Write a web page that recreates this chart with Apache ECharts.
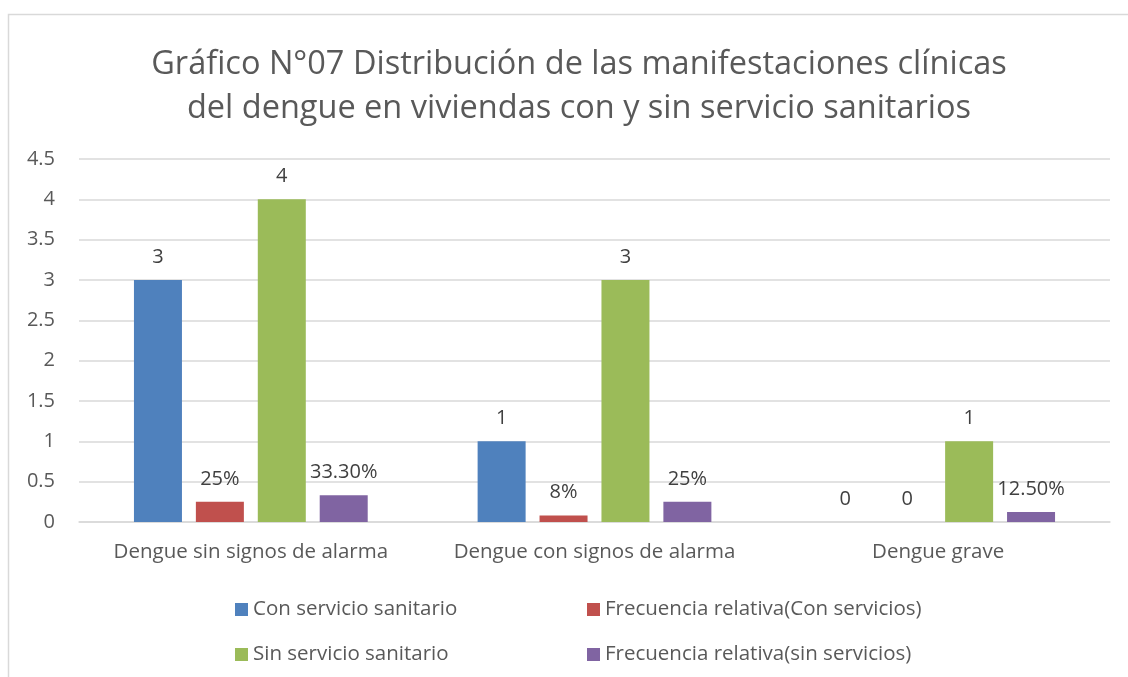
<!DOCTYPE html>
<html>
<head>
<meta charset="utf-8">
<script src="https://cdn.jsdelivr.net/npm/echarts@6/dist/echarts.min.js"></script>
<style>
  html, body { margin: 0; padding: 0; background: #fff; }
  #chart { width: 1128px; height: 677px; }
</style>
</head>
<body>
<div id="chart"></div>
<script>
const categories = ["Dengue sin signos de alarma", "Dengue con signos de alarma", "Dengue grave"];
const conServicio = [3, 1, 0];
const frecCon = [0.25, 0.08, 0];
const sinServicio = [4, 3, 1];
const frecSin = [0.333, 0.25, 0.125];
const frecConLabels = ["25%", "8%", "0"];
const frecSinLabels = ["33.30%", "25%", "12.50%"];

const font = "Open Sans";
const textColor = "#595959";

let chart = echarts.init(document.getElementById("chart"));

function labelCfg(texts) {
  return {
    show: true,
    position: "top",
    distance: 13,
    fontFamily: font,
    fontSize: 20,
    color: "#404040",
    formatter: texts ? p => texts[p.dataIndex] : "{c}"
  };
}

let option = {
  animation: false,
  backgroundColor: "#fff",
  title: {
    text: "Gráfico N°07 Distribución de las manifestaciones clínicas\ndel dengue en viviendas con y sin servicio sanitarios",
    left: 574,
    textAlign: "center",
    top: 38,
    textStyle: {
      fontFamily: font,
      fontSize: 32.5,
      fontWeight: "normal",
      color: textColor,
      lineHeight: 44
    }
  },
  graphic: [
    {
      type: "rect",
      shape: { x: 8.5, y: 14.5, width: 1200, height: 700 },
      style: { fill: "none", stroke: "#d9d9d9", lineWidth: 1.5 },
      silent: true
    }
  ],
  legend: [
    {
      orient: "vertical",
      left: 230,
      top: 594,
      itemWidth: 13,
      itemHeight: 13,
      itemGap: 24,
      icon: "rect",
      textStyle: { fontFamily: font, fontSize: 20.5, color: textColor },
      data: ["Con servicio sanitario", "Sin servicio sanitario"]
    },
    {
      orient: "vertical",
      left: 582,
      top: 594,
      itemWidth: 13,
      itemHeight: 13,
      itemGap: 24,
      icon: "rect",
      textStyle: { fontFamily: font, fontSize: 20.5, color: textColor },
      data: ["Frecuencia relativa(Con servicios)", "Frecuencia relativa(sin servicios)"]
    }
  ],
  grid: {
    left: 79,
    right: 18,
    top: 159,
    height: 363
  },
  xAxis: {
    type: "category",
    data: categories,
    axisLine: { lineStyle: { color: "#d9d9d9", width: 1.5 } },
    axisTick: { show: false },
    axisLabel: {
      interval: 0,
      hideOverlap: false,
      fontFamily: font,
      fontSize: 20.5,
      color: textColor,
      margin: 20
    }
  },
  yAxis: {
    type: "value",
    min: 0,
    max: 4.5,
    interval: 0.5,
    axisLine: { show: false },
    axisTick: { show: false },
    splitLine: { lineStyle: { color: "#d9d9d9", width: 1.5 } },
    axisLabel: {
      fontFamily: font,
      fontSize: 20,
      color: textColor,
      margin: 24
    }
  },
  series: [
    {
      name: "Con servicio sanitario",
      type: "bar",
      data: conServicio,
      barWidth: 48,
      barGap: "29%",
      itemStyle: { color: "#4F81BD" },
      label: labelCfg(null)
    },
    {
      name: "Frecuencia relativa(Con servicios)",
      type: "bar",
      data: frecCon,
      barWidth: 48,
      itemStyle: { color: "#C0504D" },
      label: labelCfg(frecConLabels)
    },
    {
      name: "Sin servicio sanitario",
      type: "bar",
      data: sinServicio,
      barWidth: 48,
      itemStyle: { color: "#9BBB59" },
      label: labelCfg(null)
    },
    {
      name: "Frecuencia relativa(sin servicios)",
      type: "bar",
      data: frecSin,
      barWidth: 48,
      itemStyle: { color: "#8064A2" },
      label: labelCfg(frecSinLabels)
    }
  ]
};

chart.setOption(option);
</script>
</body>
</html>
